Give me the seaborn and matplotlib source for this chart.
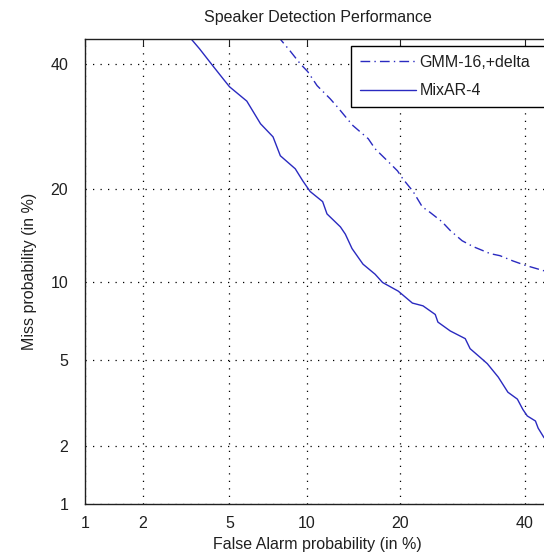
import numpy as np
import pandas as pd
import matplotlib
matplotlib.use('Agg')
import matplotlib.pyplot as plt
import seaborn as sns
from math import erf, sqrt

# DET curve values (percent)
gmm_fa = [7.8, 8.7, 9.5, 10.1, 10.9, 12.1, 12.8, 13.8, 14.4, 16.1, 16.9, 18.8, 19.7,
          20.4, 21.8, 23.1, 24.2, 26.0, 27.3, 29.2, 31.0, 33.9, 35.6, 37.9, 40.1, 43.6]
gmm_miss = [45.3, 42.5, 40.1, 38.7, 36.2, 33.9, 32.5, 30.5, 29.4, 27.3, 25.75, 23.5, 22.5,
            21.4, 19.7, 17.75, 17.1, 16.0, 15.0, 13.9, 13.3, 12.6, 12.4, 11.9, 11.5, 11.0]

mixar_fa = [3.3, 3.7, 4.25, 4.7, 5.0, 5.9, 6.7, 7.5, 8.0, 9.1, 9.7, 10.3, 11.4, 11.8,
            13.1, 13.6, 14.3, 15.5, 16.9, 17.8, 19.8, 21.7, 23.2, 25.0, 25.4, 27.3,
            29.7, 30.5, 32.2, 33.4, 35.3, 37.0, 38.7, 39.7, 40.5, 42.0, 42.5, 43.6]
mixar_miss = [45.3, 42.9, 39.7, 37.4, 36.0, 33.5, 29.7, 27.6, 24.7, 22.8, 21.1, 19.7,
              18.4, 16.9, 15.4, 14.6, 13.1, 11.6, 10.7, 10.0, 9.3, 8.4, 8.2, 7.6, 7.1,
              6.55, 6.1, 5.55, 5.1, 4.8, 4.2, 3.6, 3.35, 3.0, 2.8, 2.65, 2.45, 2.2]

tick_vals = [1, 2, 5, 10, 20, 40]
tick_labels = ['1', '2', '5', '10', '20', '40']


_cdf1 = np.vectorize(lambda z: 0.5 * (1 + erf(z / sqrt(2))), otypes=[float])


def to_dev(pct):
    # percent -> normal deviate (bisection on erf)
    p = np.clip(np.asarray(pct, dtype=float) / 100.0, 1e-9, 1 - 1e-9)
    lo = np.full(p.shape, -7.0)
    hi = np.full(p.shape, 7.0)
    for _ in range(50):
        mid = (lo + hi) / 2
        m = _cdf1(mid) < p
        lo = np.where(m, mid, lo)
        hi = np.where(m, hi, mid)
    return (lo + hi) / 2


def from_dev(z):
    return _cdf1(np.asarray(z, dtype=float)) * 100.0


sns.set_style('white')
plt.rcParams['font.family'] = ['Liberation Sans', 'DejaVu Sans']

blue = '#2a2ac0'
txt = '#202020'

fig = plt.figure(figsize=(5.44, 5.60), dpi=100)
# axes runs past the right edge of the picture, like the cropped original
ax = fig.add_axes([85 / 544, 1 - 504 / 560, 465 / 544, 465 / 560])
ax.set_xscale('function', functions=(to_dev, from_dev))
ax.set_yscale('function', functions=(to_dev, from_dev))

df_gmm = pd.DataFrame({'fa': gmm_fa, 'miss': gmm_miss})
df_mix = pd.DataFrame({'fa': mixar_fa, 'miss': mixar_miss})

sns.lineplot(data=df_gmm, x='fa', y='miss', ax=ax, color=blue, linewidth=1.0,
             linestyle=(0, (7, 3, 1, 3)), estimator=None, sort=False,
             label='GMM-16,+delta')
sns.lineplot(data=df_mix, x='fa', y='miss', ax=ax, color=blue, linewidth=1.0,
             linestyle='-', estimator=None, sort=False, label='MixAR-4')

ax.set_xlim(1, 44.7)
ax.set_ylim(1, 44.7)
ax.set_xticks(tick_vals)
ax.set_xticklabels(tick_labels)
ax.set_yticks(tick_vals)
ax.set_yticklabels(tick_labels)
ax.minorticks_off()

ax.grid(True, color='black', linestyle=(0, (1, 5)), linewidth=0.9)
ax.tick_params(direction='in', length=5, width=0.8, top=True, right=True,
               labelsize=11.5, colors=txt)
ax.tick_params(axis='x', pad=9)
ax.tick_params(axis='y', pad=12)
for s in ax.spines.values():
    s.set_color('#202020')
    s.set_linewidth(1.0)

ax.set_xlabel('False Alarm probability (in %)', fontsize=11.5, color=txt, labelpad=4)
ax.set_ylabel('Miss probability (in %)', fontsize=11.5, color=txt, labelpad=10)
ax.set_title('Speaker Detection Performance', fontsize=11.5, color=txt, pad=12)

leg = ax.legend(loc='upper left', bbox_to_anchor=(351 / 544, 1 - 46 / 560, 220 / 544, 0),
                bbox_transform=fig.transFigure, mode='expand', fontsize=11.5,
                frameon=True, fancybox=False, framealpha=1, edgecolor='black',
                handlelength=3.5, handletextpad=0.25, borderpad=0.55,
                labelspacing=0.85, borderaxespad=0)
leg.get_frame().set_linewidth(1.0)
for t in leg.get_texts():
    t.set_color(txt)

fig.savefig('out.png', dpi=100)
